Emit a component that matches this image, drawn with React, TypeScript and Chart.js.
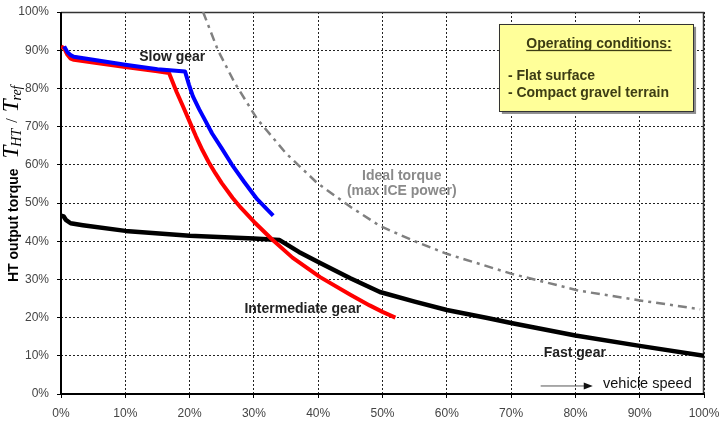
import React, { useEffect, useRef } from 'react';
import { Chart, registerables } from 'chart.js';

Chart.register(...registerables);

// ---- Data (percent of max vehicle speed / percent of reference torque) ----
const xTickValues = [0, 10, 20, 30, 40, 50, 60, 70, 80, 90, 100];
const yTickValues = [0, 10, 20, 30, 40, 50, 60, 70, 80, 90, 100];

const slowGearX = [0.5, 1, 1.5, 2, 5, 10, 15, 19.3, 19.9, 20.5, 21.5, 22.4, 23.5, 25, 26.6, 28.5, 30.5, 33];
const slowGearY = [91, 89.5, 88.7, 88.3, 87.5, 86.2, 85, 84.4, 81, 78, 74.5, 71.7, 68.2, 64.3, 60, 55.5, 51, 46.7];

const interGearX = [0, 0.5, 1, 1.5, 2, 5, 10, 15, 16.8, 18, 19, 20, 21, 22, 23, 24, 25, 26.7, 28, 30, 32.8, 36, 40.3, 45, 48, 50, 52];
const interGearY = [91, 90.5, 88.8, 87.8, 87.5, 86.8, 85.6, 84.5, 84, 79, 75.2, 71.3, 67.4, 63.8, 60.6, 57.8, 55.2, 51.3, 48.7, 45.1, 40.5, 35.7, 30.6, 26, 23.2, 21.5, 20];

const fastGearX = [0, 0.4, 0.8, 1.5, 3.4, 10, 20, 30, 34, 37, 40.3, 45, 49.6, 55, 60, 66.3, 70, 80, 90, 100];
const fastGearY = [46.7, 46.5, 45.5, 44.7, 44.2, 42.7, 41.4, 40.7, 40.3, 37.2, 34.3, 30.3, 26.7, 24.2, 22, 19.9, 18.6, 15.3, 12.6, 10];

const idealX = [22.1, 24.4, 27, 30.5, 35, 39.8, 45, 49.6, 55, 60, 70, 80.7, 90, 99.4];
const idealY = [100, 90, 81.5, 72, 63, 55.3, 49, 44, 40, 36.7, 31.5, 27, 24.5, 22.2];

const boxTitle = 'Operating conditions:';
const boxLines = ['- Flat surface', '- Compact gravel terrain'];
const yTitleText = 'HT output torque';

const SANS = '"Liberation Sans", Arial, sans-serif';
const SERIF = '"Liberation Serif", "Times New Roman", serif';

const pts = (xs: number[], ys: number[]) => xs.map((x, i) => ({ x, y: ys[i] }));

const zeroPad = (s: any) => {
  s.paddingTop = 0;
  s.paddingBottom = 0;
  s.paddingLeft = 0;
  s.paddingRight = 0;
};

const overlayPlugin = {
  id: 'overlay',
  beforeDatasetsDraw(chart: any) {
    const { ctx, chartArea: a } = chart;
    ctx.save();
    ctx.strokeStyle = '#333';
    ctx.lineWidth = 1.5;
    ctx.beginPath();
    ctx.moveTo(a.left, a.top + 0.5);
    ctx.lineTo(a.right - 0.5, a.top + 0.5);
    ctx.lineTo(a.right - 0.5, a.bottom);
    ctx.stroke();
    ctx.strokeStyle = '#000';
    ctx.lineWidth = 2;
    ctx.beginPath();
    ctx.moveTo(a.left, a.top);
    ctx.lineTo(a.left, a.bottom);
    ctx.lineTo(a.right, a.bottom);
    ctx.stroke();
    ctx.restore();
  },
  afterDraw(chart: any) {
    const { ctx } = chart;
    const xs = chart.scales.x;
    const ys = chart.scales.y;
    const px = (v: number) => xs.getPixelForValue(v);
    const py = (v: number) => ys.getPixelForValue(v);
    ctx.save();

    // curve labels
    ctx.textAlign = 'center';
    ctx.textBaseline = 'middle';
    ctx.font = `bold 14px ${SANS}`;
    ctx.fillStyle = '#222';
    ctx.fillText('Slow gear', px(17.3), py(88.2));
    ctx.fillText('Intermediate gear', px(37.6), py(22.3));
    ctx.fillText('Fast gear', px(79.9), py(10.7));
    ctx.fillStyle = '#8a8a8a';
    ctx.fillText('Ideal torque', px(53), py(57.1));
    ctx.fillText('(max ICE power)', px(53), py(53.1));

    // vehicle speed arrow
    const ay = py(2.1);
    const ax1 = px(74.6);
    const ax2 = px(82.7);
    ctx.strokeStyle = '#555';
    ctx.lineWidth = 1;
    ctx.beginPath();
    ctx.moveTo(ax1, ay);
    ctx.lineTo(ax2 - 6, ay);
    ctx.stroke();
    ctx.fillStyle = '#111';
    ctx.beginPath();
    ctx.moveTo(ax2, ay);
    ctx.lineTo(ax2 - 9, ay - 3.5);
    ctx.lineTo(ax2 - 9, ay + 3.5);
    ctx.closePath();
    ctx.fill();
    ctx.textAlign = 'left';
    ctx.font = `14.5px ${SANS}`;
    ctx.fillStyle = '#111';
    ctx.fillText('vehicle speed', px(84.3), py(2.6));

    // operating conditions box
    const bx1 = px(68.1), bx2 = px(98.3), by1 = py(96.9), by2 = py(74.1);
    ctx.fillStyle = '#8c8c8c';
    ctx.fillRect(bx1 + 3, by1 + 3, bx2 - bx1, by2 - by1);
    ctx.fillStyle = '#ffff99';
    ctx.fillRect(bx1, by1, bx2 - bx1, by2 - by1);
    ctx.strokeStyle = '#333';
    ctx.lineWidth = 1;
    ctx.strokeRect(Math.round(bx1) + 0.5, Math.round(by1) + 0.5, Math.round(bx2 - bx1), Math.round(by2 - by1));
    ctx.fillStyle = '#3d3d14';
    ctx.font = `bold 14px ${SANS}`;
    ctx.textBaseline = 'alphabetic';
    ctx.textAlign = 'center';
    const cx = (bx1 + bx2) / 2 + 3;
    ctx.fillText(boxTitle, cx, by1 + 24);
    const tw = ctx.measureText(boxTitle).width;
    ctx.fillRect(cx - tw / 2, by1 + 26, tw, 1.3);
    ctx.textAlign = 'left';
    ctx.fillText(boxLines[0], bx1 + 9, by1 + 56);
    ctx.fillText(boxLines[1], bx1 + 9, by1 + 73);

    // y-axis title
    ctx.translate(18, 282);
    ctx.rotate(-Math.PI / 2);
    ctx.fillStyle = '#000';
    ctx.textAlign = 'left';
    ctx.textBaseline = 'alphabetic';
    ctx.font = `bold 14px ${SANS}`;
    ctx.fillText(yTitleText, 0, 0);
    let tx = ctx.measureText(yTitleText).width + 10;
    const parts = [
      { t: 'T', f: `italic 23px ${SERIF}`, dy: 0 },
      { t: 'HT', f: `italic 14px ${SERIF}`, dy: 3 },
      { t: ' / ', f: `16px ${SERIF}`, dy: -1 },
      { t: 'T', f: `italic 23px ${SERIF}`, dy: 0 },
      { t: 'ref', f: `italic 14px ${SERIF}`, dy: 3 },
    ];
    for (const p of parts) {
      ctx.font = p.f;
      ctx.fillText(p.t, tx, p.dy);
      tx += ctx.measureText(p.t).width + (p.t === 'T' ? -1 : 2);
    }
    ctx.restore();
  },
};

export default function App() {
  const ref = useRef<HTMLCanvasElement | null>(null);
  useEffect(() => {
    if (!ref.current) return;
    const tickFont = { family: SANS, size: 12 };
    const chart = new Chart(ref.current, {
      type: 'line',
      data: {
        datasets: [
          { label: 'Slow gear', data: pts(slowGearX, slowGearY), borderColor: '#0000ff', borderWidth: 4, pointRadius: 0, tension: 0, order: 0, borderJoinStyle: 'round' },
          { label: 'Intermediate gear', data: pts(interGearX, interGearY), borderColor: '#ff0000', borderWidth: 4, pointRadius: 0, tension: 0, order: 1, borderJoinStyle: 'round' },
          { label: 'Fast gear', data: pts(fastGearX, fastGearY), borderColor: '#000000', borderWidth: 4.5, pointRadius: 0, tension: 0, order: 2, borderJoinStyle: 'round' },
          { label: 'Ideal torque', data: pts(idealX, idealY), borderColor: '#808080', borderWidth: 2.5, borderDash: [9, 5, 3, 5], pointRadius: 0, tension: 0, order: 3 },
        ],
      },
      options: {
        animation: false,
        responsive: true,
        maintainAspectRatio: false,
        layout: { padding: { left: 0, top: 12, right: 16, bottom: 0 } },
        plugins: { legend: { display: false }, tooltip: { enabled: false } },
        scales: {
          x: {
            type: 'linear',
            min: 0,
            max: 100,
            afterBuildTicks: (s: any) => { s.ticks = xTickValues.map((v) => ({ value: v })); },
            afterFit: (s: any) => { s.height = 33; zeroPad(s); },
            ticks: { callback: (v: any) => v + '%', color: '#444', font: tickFont, padding: 8, maxRotation: 0, autoSkip: false },
            grid: { color: '#222', lineWidth: 1, tickColor: '#000', tickLength: 4, tickBorderDash: [] },
            border: { display: false, dash: [2, 2] },
          },
          y: {
            type: 'linear',
            min: 0,
            max: 100,
            afterBuildTicks: (s: any) => { s.ticks = yTickValues.map((v) => ({ value: v })); },
            afterFit: (s: any) => { s.width = 61; zeroPad(s); },
            ticks: { callback: (v: any) => v + '%', color: '#444', font: tickFont, padding: 8, autoSkip: false },
            grid: { color: '#222', lineWidth: 1, tickColor: '#000', tickLength: 4, tickBorderDash: [] },
            border: { display: false, dash: [2, 2] },
          },
        },
      },
      plugins: [overlayPlugin],
    } as any);
    return () => chart.destroy();
  }, []);
  return (
    <div style={{ position: 'fixed', left: 0, top: 0, width: 720, height: 427, background: '#fff' }}>
      <canvas ref={ref} />
    </div>
  );
}
